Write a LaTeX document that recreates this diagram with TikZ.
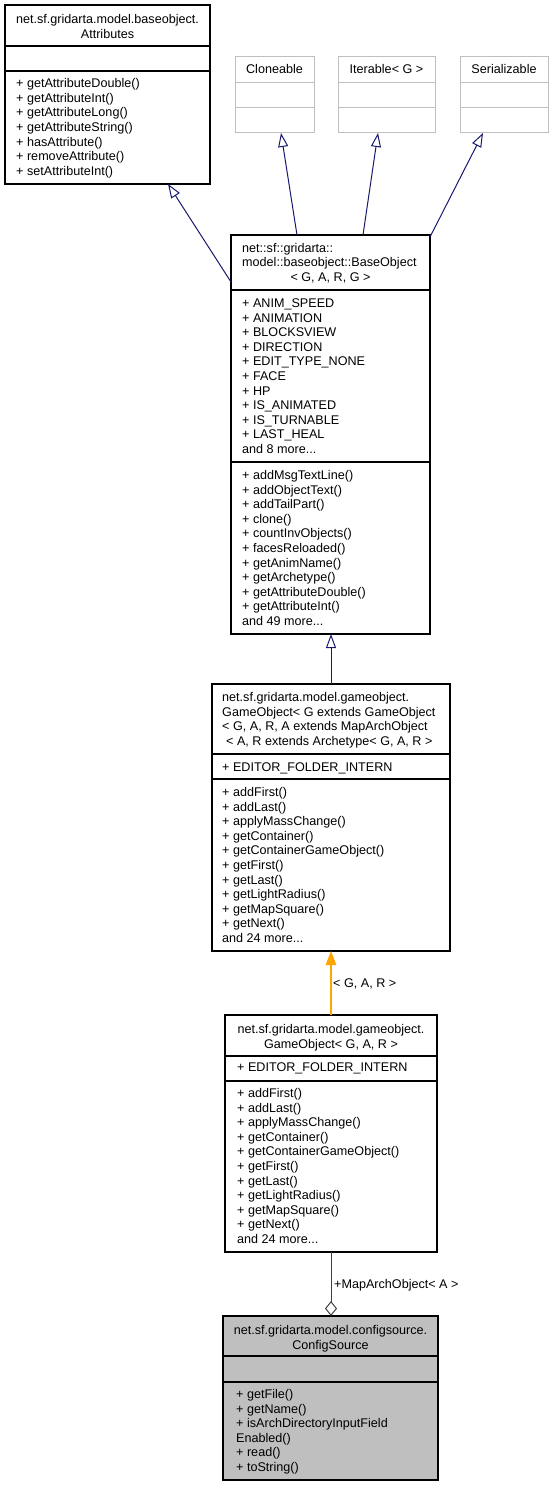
\documentclass[tikz,border=0pt]{standalone}
\usepackage{fontspec}
\setmainfont{Liberation Sans}
\usetikzlibrary{calc,arrows.meta}
\definecolor{edgeblue}{HTML}{191970}
\definecolor{greyseventyfive}{HTML}{BFBFBF}
\definecolor{aggrgray}{HTML}{404040}
\definecolor{orangeedge}{HTML}{FFA500}
\newcommand\umldots{...}
\newcommand\umllines[5]{\foreach \t [count=\i] in {#5}{\node[txt,anchor=#4] (#1-\i) at (#2,{#3+(\i-1)*14.6}) {\t};}}
\begin{document}
\begin{tikzpicture}[x=1pt,y=-1pt,
  txt/.style={inner sep=0pt,font=\fontsize{12.6}{14.6}\selectfont},
  box/.style={draw=black,line width=1.1pt,fill=white,rectangle,inner sep=0pt,outer sep=0pt,anchor=north west},
  ibox/.style={draw=greyseventyfive,line width=1pt,fill=white,rectangle,inner sep=0pt,outer sep=0pt,anchor=north west},
  sepline/.style={draw=black,line width=1.1pt},
  isepline/.style={draw=greyseventyfive,line width=1pt},
  inh/.style={draw=edgeblue,line width=1pt,-{Triangle[open,length=14pt,width=10pt,fill=white]}},
  tmpl/.style={draw=orangeedge,line width=1.3pt,-{Triangle[length=14pt,width=10.5pt,fill=orangeedge]}},
  aggr/.style={draw=aggrgray,line width=1pt,-{Diamond[open,length=15pt,width=12pt,fill=white]}}]
\fill[white] (0,0) rectangle (553,1487);
\useasboundingbox (0,0) rectangle (553,1487);

% ---------- Attributes ----------
\node[box,minimum width=205pt,minimum height=179pt] (attr) at (5,5) {};
\draw[sepline] ($(attr.north west)+(0,41)$) -- ($(attr.north east)+(0,41)$);
\draw[sepline] ($(attr.north west)+(0,66)$) -- ($(attr.north east)+(0,66)$);
\umllines{attrt}{107.5}{23.5}{base}{net.sf.gridarta.model.baseobject.,Attributes}
\umllines{attrm}{16}{87.8}{base west}{+ getAttributeDouble(),+ getAttributeInt(),+ getAttributeLong(),+ getAttributeString(),+ hasAttribute(),+ removeAttribute(),+ setAttributeInt()}

% ---------- Interfaces ----------
\node[ibox,minimum width=79pt,minimum height=76pt] (clo) at (235,57) {};
\node[ibox,minimum width=97pt,minimum height=76pt] (iter) at (338,57) {};
\node[ibox,minimum width=88pt,minimum height=76pt] (ser) at (460,57) {};
\foreach \n in {clo,iter,ser}{
  \draw[isepline] ($(\n.north west)+(0,26)$) -- ($(\n.north east)+(0,26)$);
  \draw[isepline] ($(\n.north west)+(0,51)$) -- ($(\n.north east)+(0,51)$);
}
\node[txt,anchor=base] (clot) at (274.5,74) {Cloneable};
\node[txt,anchor=base] (itert) at (386.5,74) {Iterable< G >};
\node[txt,anchor=base] (sert) at (504,74) {Serializable};

% ---------- BaseObject ----------
\node[box,minimum width=199pt,minimum height=399pt] (bo) at (231,235) {};
\draw[sepline] ($(bo.north west)+(0,55)$) -- ($(bo.north east)+(0,55)$);
\draw[sepline] ($(bo.north west)+(0,227)$) -- ($(bo.north east)+(0,227)$);
\node[txt,anchor=base west] (bot1) at (242,252.4) {net::sf::gridarta::};
\node[txt,anchor=base west] (bot2) at (242,267) {model::baseobject::BaseObject};
\node[txt,anchor=base] (bot3) at (330.5,281.6) {< G, A, R, G >};
\umllines{boa}{242}{307.5}{base west}{+ ANIM\_SPEED,+ ANIMATION,+ BLOCKSVIEW,+ DIRECTION,+ EDIT\_TYPE\_NONE,+ FACE,+ HP,+ IS\_ANIMATED,+ IS\_TURNABLE,+ LAST\_HEAL,and 8 more\umldots}
\umllines{bom}{242}{479.5}{base west}{+ addMsgTextLine(),+ addObjectText(),+ addTailPart(),+ clone(),+ countInvObjects(),+ facesReloaded(),+ getAnimName(),+ getArchetype(),+ getAttributeDouble(),+ getAttributeInt(),and 49 more\umldots}

% ---------- GameObject (generic) ----------
\node[box,minimum width=238pt,minimum height=267pt] (gob) at (212,684) {};
\draw[sepline] ($(gob.north west)+(0,70)$) -- ($(gob.north east)+(0,70)$);
\draw[sepline] ($(gob.north west)+(0,95)$) -- ($(gob.north east)+(0,95)$);
\node[txt,anchor=base west] (gobt1) at (222,701.6) {net.sf.gridarta.model.gameobject.};
\node[txt,anchor=base west] (gobt2) at (222,716.2) {GameObject< G extends GameObject};
\node[txt,anchor=base west] (gobt3) at (222,730.8) {< G, A, R, A extends MapArchObject};
\node[txt,anchor=base west] (gobt4) at (226,745.4) {< A, R extends Archetype< G, A, R >};
\node[txt,anchor=base west] (goba) at (222,771) {+ EDITOR\_FOLDER\_INTERN};
\umllines{gobm}{222}{796.5}{base west}{+ addFirst(),+ addLast(),+ applyMassChange(),+ getContainer(),+ getContainerGameObject(),+ getFirst(),+ getLast(),+ getLightRadius(),+ getMapSquare(),+ getNext(),and 24 more\umldots}

% ---------- GameObject< G, A, R > ----------
\node[box,minimum width=212pt,minimum height=237pt] (go) at (225,1015) {};
\draw[sepline] ($(go.north west)+(0,41)$) -- ($(go.north east)+(0,41)$);
\draw[sepline] ($(go.north west)+(0,66)$) -- ($(go.north east)+(0,66)$);
\umllines{got}{331}{1033.5}{base}{net.sf.gridarta.model.gameobject.,{GameObject< G, A, R >}}
\node[txt,anchor=base west] (goa) at (237,1071.5) {+ EDITOR\_FOLDER\_INTERN};
\umllines{gom}{237}{1097.5}{base west}{+ addFirst(),+ addLast(),+ applyMassChange(),+ getContainer(),+ getContainerGameObject(),+ getFirst(),+ getLast(),+ getLightRadius(),+ getMapSquare(),+ getNext(),and 24 more\umldots}

% ---------- ConfigSource ----------
\node[box,fill=greyseventyfive,minimum width=215pt,minimum height=164pt] (cs) at (223,1316) {};
\draw[sepline] ($(cs.north west)+(0,40)$) -- ($(cs.north east)+(0,40)$);
\draw[sepline] ($(cs.north west)+(0,66)$) -- ($(cs.north east)+(0,66)$);
\umllines{cst}{330.5}{1334.5}{base}{net.sf.gridarta.model.configsource.,ConfigSource}
\umllines{csm}{236}{1398.5}{base west}{+ getFile(),+ getName(),+ isArchDirectoryInputField,Enabled(),+ read(),+ toString()}

% ---------- Connectors ----------
\draw[inh] ($(bo.north west)+(0,47)$) -- ($(attr.south west)+(163,0)$);
\draw[inh] ($(bo.north west)+(66,0)$) -- ($(clo.south west)+(46,0)$);
\draw[inh] ($(bo.north west)+(132,0)$) -- ($(iter.south west)+(40,0)$);
\draw[inh] ($(bo.north east)+(0,2)$) -- ($(ser.south west)+(23,0)$);
\draw[inh] (gob.north) -- (gob.north |- bo.south);
\draw[tmpl] (go.north) -- (go.north |- gob.south);
\node[txt,anchor=base west] (tmpllabel) at (333,987.5) {< G, A, R >};
\draw[aggr] (go.south) -- (go.south |- cs.north);
\node[txt,anchor=base west] (aggrlabel) at (334,1288.5) {+MapArchObject< A >};
\end{tikzpicture}
\end{document}
